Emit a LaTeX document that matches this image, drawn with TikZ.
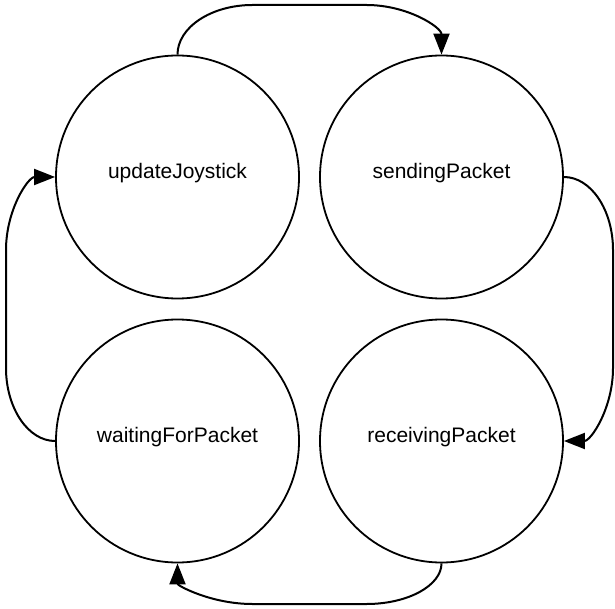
\documentclass[tikz,border=0pt]{standalone}
\usepackage{fontspec}
\setmainfont{Liberation Sans}
\usetikzlibrary{arrows.meta}
\begin{document}
\begin{tikzpicture}[x=1pt,y=-1pt,
  state/.style={circle,draw=black,line width=1.8pt,minimum size=243pt,inner sep=0pt},
  lbl/.style={font=\fontsize{21}{25}\selectfont,inner sep=0pt},
  conn/.style={draw=black,line width=2pt,-{Triangle[length=21pt,width=16pt]}}]
\useasboundingbox (0,0) rectangle (615,609);
\node[state] (uj) at (177.5,177) {};
\node[state] (sp) at (441.5,177) {};
\node[state] (wp) at (177.5,441) {};
\node[state] (rp) at (441.5,441) {};
\node[lbl] (ujl) at (177.5,173) {updateJoystick};
\node[lbl] (spl) at (441.5,173) {sendingPacket};
\node[lbl] (wpl) at (177.5,437) {waitingForPacket};
\node[lbl] (rpl) at (441.5,437) {receivingPacket};
\coordinate (t1) at (252.5,5);
\coordinate (t2) at (366.5,5);
\coordinate (r1) at (613,250);
\coordinate (r2) at (613,368);
\coordinate (b1) at (366.5,604);
\coordinate (b2) at (252.5,604);
\coordinate (l1) at (6,368);
\coordinate (l2) at (6,250);
\draw[conn] (uj.north) .. controls (177.5,27.5) and (211,5) .. (t1) -- (t2)
  .. controls (408,5) and (441.5,27.5) .. (sp.north);
\draw[conn] (sp.east) .. controls (591,177) and (613,210) .. (r1) -- (r2)
  .. controls (613,408) and (591,441) .. (rp.east);
\draw[conn] (rp.south) .. controls (441.5,585.5) and (408,604) .. (b1) -- (b2)
  .. controls (211,604) and (177.5,585.5) .. (wp.south);
\draw[conn] (wp.west) .. controls (28,441) and (6,408) .. (l1) -- (l2)
  .. controls (6,210) and (28,177) .. (uj.west);
\end{tikzpicture}
\end{document}
